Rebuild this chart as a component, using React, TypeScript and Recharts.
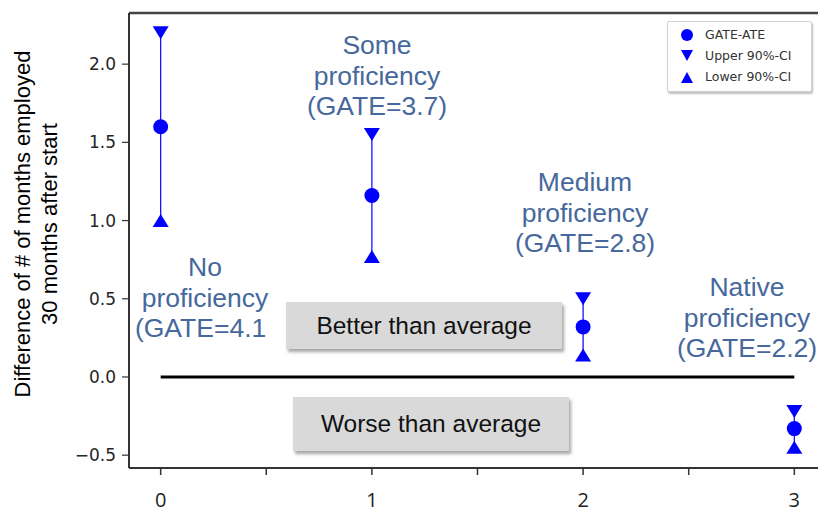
import {
  ComposedChart,
  Scatter,
  ErrorBar,
  XAxis,
  YAxis,
  ReferenceLine,
} from "recharts";

const positions = [0, 1, 2, 3];
const groups = ["No", "Some", "Medium", "Native"];
const gate = ["4.1", "3.7", "2.8", "2.2"];
const ate = [1.6, 1.16, 0.32, -0.33];
const upperCI = [2.2, 1.55, 0.5, -0.22];
const lowerCI = [1.0, 0.77, 0.14, -0.45];
const xTicks = [0, 0.5, 1, 1.5, 2, 2.5, 3];
const yTicks = [-0.5, 0, 0.5, 1.0, 1.5, 2.0];

const X_MIN = -0.15;
const X_MAX = 3.15;
const Y_MIN = -0.582;
const Y_MAX = 2.327;

const BLUE = "#0000ff";
const NOTE = "#46689c";

const meanData = positions.map((x, i) => ({
  x,
  y: ate[i],
  err: [ate[i] - lowerCI[i], upperCI[i] - ate[i]],
}));
const upperData = positions.map((x, i) => ({ x, y: upperCI[i] }));
const lowerData = positions.map((x, i) => ({ x, y: lowerCI[i] }));
const zeroLine = [
  { x: positions[0], y: 0 },
  { x: positions[positions.length - 1], y: 0 },
];

// text placement of the group notes (pixels in the picture)
const notes = [
  { cx: 205, top: 267, clip: 266 },
  { cx: 377, top: 45 },
  { cx: 585, top: 182 },
  { cx: 747, top: 287 },
];

const DownTri = (props: any) => {
  const { cx, cy } = props;
  return (
    <polygon
      points={`${cx - 8},${cy - 6.5} ${cx + 8},${cy - 6.5} ${cx},${cy + 6.5}`}
      fill={BLUE}
    />
  );
};

const UpTri = (props: any) => {
  const { cx, cy } = props;
  return (
    <polygon
      points={`${cx - 8},${cy + 6.5} ${cx + 8},${cy + 6.5} ${cx},${cy - 6.5}`}
      fill={BLUE}
    />
  );
};

const Dot = (props: any) => {
  const { cx, cy } = props;
  return <circle cx={cx} cy={cy} r={7.5} fill={BLUE} />;
};

const fmtY = (v: number) => v.toFixed(1).replace("-", "\u2212");
const fmtX = (v: number) => (Number.isInteger(v) ? String(v) : "");

const LegendBox = () => {
  const rows = [
    { label: "GATE-ATE", mark: <circle cx={8} cy={8} r={6} fill={BLUE} /> },
    { label: "Upper 90%-CI", mark: <polygon points="2,2 14,2 8,13" fill={BLUE} /> },
    { label: "Lower 90%-CI", mark: <polygon points="2,14 14,14 8,3" fill={BLUE} /> },
  ];
  return (
    <div
      style={{
        position: "absolute",
        left: 667,
        top: 21,
        background: "#fff",
        border: "1px solid #cfcfcf",
        borderRadius: 2,
        boxShadow: "1px 2px 2px rgba(0,0,0,0.25)",
        padding: "2px 8px 4px 11px",
        width: 124,
        fontFamily: "DejaVu Sans",
        fontSize: 12.5,
        color: "#333",
      }}
    >
      {rows.map((r) => (
        <div key={r.label} style={{ display: "flex", alignItems: "center", height: 21 }}>
          <svg width={16} height={16} style={{ marginRight: 10 }}>
            {r.mark}
          </svg>
          <span>{r.label}</span>
        </div>
      ))}
    </div>
  );
};

const boxStyle: React.CSSProperties = {
  position: "absolute",
  background: "#d9d9d9",
  boxShadow: "2px 3px 3px rgba(0,0,0,0.35)",
  display: "flex",
  alignItems: "center",
  justifyContent: "center",
  fontFamily: "Liberation Sans, Arial",
  fontSize: 24.5,
  color: "#111",
};

export default function App() {
  return (
    <div
      style={{
        position: "fixed",
        left: 0,
        top: 0,
        width: 818,
        height: 513,
        overflow: "hidden",
        background: "#fff",
      }}
    >
      <ComposedChart
        width={830}
        height={513}
        margin={{ top: 13, right: 4, bottom: 0, left: 0 }}
      >
        <XAxis
          type="number"
          dataKey="x"
          domain={[X_MIN, X_MAX]}
          ticks={xTicks}
          tickFormatter={fmtX}
          allowDataOverflow
          height={45}
          tickSize={7}
          tickMargin={18}
          axisLine={{ stroke: "#333", strokeWidth: 2 }}
          tickLine={{ stroke: "#333", strokeWidth: 1.5 }}
          tick={{ fontFamily: "Open Sans", fontSize: 20, fill: "#222" }}
        />
        <YAxis
          type="number"
          dataKey="y"
          domain={[Y_MIN, Y_MAX]}
          ticks={yTicks}
          tickFormatter={fmtY}
          allowDataOverflow
          width={129}
          tickSize={7}
          tickMargin={6}
          axisLine={{ stroke: "#333", strokeWidth: 2 }}
          tickLine={{ stroke: "#333", strokeWidth: 1.2 }}
          tick={{ fontFamily: "DejaVu Sans", fontSize: 17, fill: "#262626" }}
        />
        <ReferenceLine y={Y_MAX} stroke="#444" strokeWidth={2.5} ifOverflow="visible" />
        <ReferenceLine segment={zeroLine} stroke="#000" strokeWidth={3} />
        <Scatter data={meanData} shape={<Dot />} isAnimationActive={false} name="GATE-ATE">
          <ErrorBar dataKey="err" direction="y" width={0} stroke={BLUE} strokeWidth={1.2} />
        </Scatter>
        <Scatter data={upperData} shape={<DownTri />} isAnimationActive={false} name="Upper 90%-CI" />
        <Scatter data={lowerData} shape={<UpTri />} isAnimationActive={false} name="Lower 90%-CI" />
      </ComposedChart>

      <svg
        width={818}
        height={513}
        style={{ position: "absolute", left: 0, top: 0, pointerEvents: "none" }}
      >
        <defs>
          <clipPath id="clipNo">
            <rect x={0} y={0} width={notes[0].clip} height={513} />
          </clipPath>
        </defs>
        <g fontFamily="Liberation Sans, Arial" fontSize={22} fill="#000" textAnchor="middle">
          <text transform="translate(22,224) rotate(-90)" dominantBaseline="central">
            Difference of # of months employed
          </text>
          <text transform="translate(49,224) rotate(-90)" dominantBaseline="central">
            30 months after start
          </text>
        </g>
        {notes.map((n, i) => (
          <g
            key={groups[i]}
            fontFamily="Liberation Sans, Arial"
            fontSize={26.5}
            fill={NOTE}
            textAnchor="middle"
          >
            <text x={n.cx} y={n.top} dominantBaseline="central">
              {groups[i]}
            </text>
            <text x={n.cx} y={n.top + 31} dominantBaseline="central">
              proficiency
            </text>
            <text
              x={n.cx}
              y={n.top + 61}
              dominantBaseline="central"
              clipPath={n.clip ? "url(#clipNo)" : undefined}
            >
              (GATE={gate[i]})
            </text>
          </g>
        ))}
      </svg>

      <LegendBox />

      <div style={{ ...boxStyle, left: 286, top: 302, width: 276, height: 47 }}>
        Better than average
      </div>
      <div style={{ ...boxStyle, left: 293, top: 397, width: 276, height: 54 }}>
        Worse than average
      </div>
    </div>
  );
}
